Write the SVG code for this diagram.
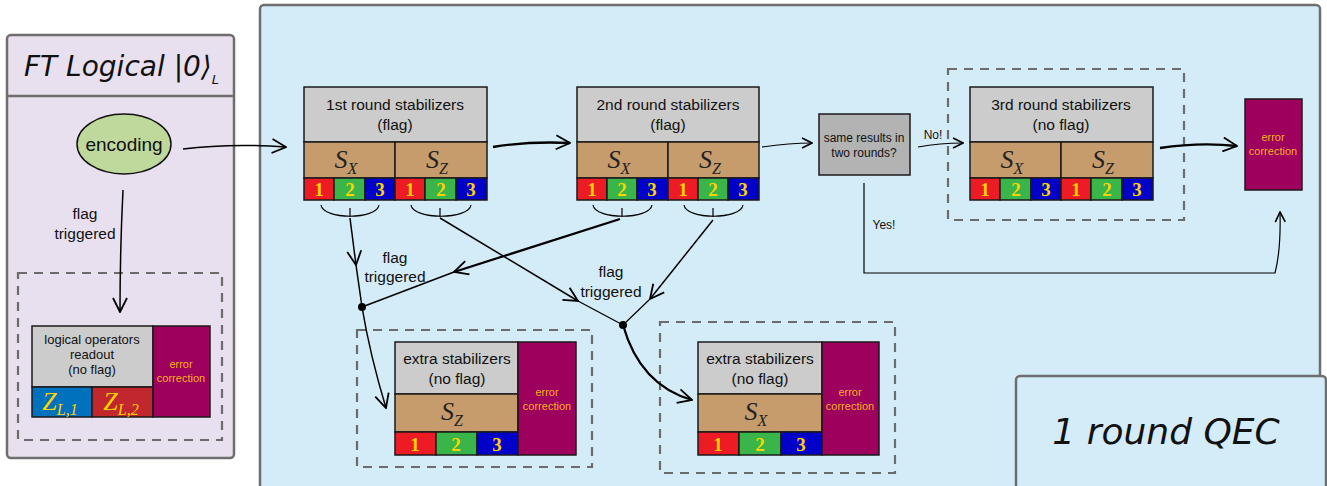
<svg xmlns="http://www.w3.org/2000/svg" width="1327" height="486" viewBox="0 0 1327 486">
  <defs>
    <marker id="open" viewBox="0 0 12 12" refX="11" refY="6" markerWidth="12" markerHeight="12" markerUnits="userSpaceOnUse" orient="auto">
      <path d="M1,1 L11,6 L1,11" fill="none" stroke="#000" stroke-width="1.6"/>
    </marker>
    <marker id="openBig" viewBox="0 0 16 16" refX="15" refY="8" markerWidth="16" markerHeight="16" markerUnits="userSpaceOnUse" orient="auto">
      <path d="M1,1 L15,8 L1,15" fill="none" stroke="#000" stroke-width="1.8"/>
    </marker>
    <style>
      .panel { stroke: #6e6e6e; stroke-width: 2.5; }
      .dash { fill: none; stroke: #6b6b6b; stroke-width: 2.2; stroke-dasharray: 9 7; }
      .cell { stroke: #1a1a1a; stroke-width: 1.5; }
      .gray { fill: #cccccc; }
      .brown { fill: #c69c6d; }
      .r { fill: #ed1c24; }
      .g { fill: #39b54a; }
      .b { fill: #0000c8; }
      .ec { fill: #9e005d; }
      .lbl { font-family: "Liberation Sans", Arial, sans-serif; font-size: 15.5px; fill: #111; text-anchor: middle; }
      .sm { font-size: 13px; }
      .xs { font-size: 12px; }
      .big { font-size: 19px; }
      .ecl { font-family: "Liberation Sans", Arial, sans-serif; font-size: 11px; fill: #f7b21e; text-anchor: middle; }
      .num { font-family: "Liberation Serif", "Times New Roman", serif; font-weight: bold; font-size: 19px; fill: #ffd400; text-anchor: middle; }
      .op { font-family: "Liberation Serif", "Times New Roman", serif; font-style: italic; font-size: 26px; fill: #222; text-anchor: middle; }
      .zl { fill: #ffd400; }
      .sub { font-size: 16px; }
      .hand { font-family: "DejaVu Sans", sans-serif; fill: #111; font-style: italic; }
      .line { fill: none; stroke: #000; stroke-width: 1.5; }
      .thin { stroke-width: 1.2; }
      .thick { fill: none; stroke: #000; stroke-width: 2.3; }
      .brace { fill: none; stroke: #000; stroke-width: 1.2; }
    </style>
  </defs>

  <rect width="1327" height="486" fill="#ffffff"/>

  <!-- left panel: fault-tolerant logical zero -->
  <g id="ft-panel">
    <rect x="7" y="35" width="227" height="423" rx="4" fill="#e8e0ee" class="panel"/>
    <line x1="7" y1="96" x2="234" y2="96" stroke="#6e6e6e" stroke-width="2.5"/>
    <text x="24" y="76" class="hand" style="font-size:28px">FT Logical |0⟩<tspan style="font-size:13px" dy="8">L</tspan></text>
  </g>

  <!-- main QEC panel -->
  <g id="qec-panel">
    <rect x="260" y="5" width="1060" height="490" rx="4" fill="#d4ecf8" class="panel"/>
  </g>

  <g id="qec-label">
    <rect x="1016" y="376" width="310" height="120" rx="4" fill="#d4ecf8" class="panel"/>
    <text x="1166" y="444" class="hand" style="font-size:36px" text-anchor="middle">1 round QEC</text>
  </g>

  <!-- encoding -->
  <g id="encoding">
    <ellipse cx="124" cy="144" rx="47" ry="30" fill="#bfd89b" stroke="#111" stroke-width="1.5"/>
    <text x="124" y="151" class="lbl big">encoding</text>
  </g>

  <!-- logical readout -->
  <g id="logical-readout">
    <rect x="18" y="273" width="204" height="167" class="dash"/>
    <rect x="32" y="326" width="121" height="61" class="cell gray"/>
    <text x="92" y="344" class="lbl sm">logical operators</text>
    <text x="92" y="359" class="lbl sm">readout</text>
    <text x="92" y="374" class="lbl sm">(no flag)</text>
    <rect x="32" y="387" width="60" height="30" class="cell" fill="#0071bc"/>
    <rect x="92" y="387" width="61" height="30" class="cell" fill="#c1272d"/>
    <text x="60" y="410" class="op zl">Z<tspan class="sub" dy="5">L,1</tspan></text>
    <text x="121" y="410" class="op zl">Z<tspan class="sub" dy="5">L,2</tspan></text>
    <rect x="153" y="326" width="57" height="91" class="cell ec"/>
    <text x="181" y="368" class="ecl">error</text>
    <text x="181" y="382" class="ecl">correction</text>
  </g>

  <!-- 1st round -->
  <g id="round1">
    <rect x="304" y="87" width="183" height="55" class="cell gray"/>
    <text x="395" y="110" class="lbl">1st round stabilizers</text>
    <text x="395" y="130" class="lbl">(flag)</text>
    <rect x="304" y="142" width="91" height="36" class="cell brown"/>
    <rect x="395" y="142" width="92" height="36" class="cell brown"/>
    <text x="346" y="168" class="op">S<tspan class="sub" dy="6">X</tspan></text>
    <text x="437" y="168" class="op">S<tspan class="sub" dy="6">Z</tspan></text>
    <rect x="304" y="178" width="30" height="22" class="cell r"/>
    <rect x="334" y="178" width="31" height="22" class="cell g"/>
    <rect x="365" y="178" width="30" height="22" class="cell b"/>
    <rect x="395" y="178" width="30" height="22" class="cell r"/>
    <rect x="425" y="178" width="31" height="22" class="cell g"/>
    <rect x="456" y="178" width="31" height="22" class="cell b"/>
    <text x="319" y="196" class="num">1</text>
    <text x="350" y="196" class="num">2</text>
    <text x="380" y="196" class="num">3</text>
    <text x="410" y="196" class="num">1</text>
    <text x="441" y="196" class="num">2</text>
    <text x="471" y="196" class="num">3</text>
  </g>

  <!-- 2nd round -->
  <g id="round2">
    <rect x="577" y="87" width="182" height="55" class="cell gray"/>
    <text x="668" y="110" class="lbl">2nd round stabilizers</text>
    <text x="668" y="130" class="lbl">(flag)</text>
    <rect x="577" y="142" width="91" height="36" class="cell brown"/>
    <rect x="668" y="142" width="91" height="36" class="cell brown"/>
    <text x="619" y="168" class="op">S<tspan class="sub" dy="6">X</tspan></text>
    <text x="710" y="168" class="op">S<tspan class="sub" dy="6">Z</tspan></text>
    <rect x="577" y="178" width="30" height="22" class="cell r"/>
    <rect x="607" y="178" width="30" height="22" class="cell g"/>
    <rect x="637" y="178" width="31" height="22" class="cell b"/>
    <rect x="668" y="178" width="30" height="22" class="cell r"/>
    <rect x="698" y="178" width="30" height="22" class="cell g"/>
    <rect x="728" y="178" width="31" height="22" class="cell b"/>
    <text x="592" y="196" class="num">1</text>
    <text x="622" y="196" class="num">2</text>
    <text x="652" y="196" class="num">3</text>
    <text x="683" y="196" class="num">1</text>
    <text x="713" y="196" class="num">2</text>
    <text x="743" y="196" class="num">3</text>
  </g>

  <!-- decision -->
  <g id="decision">
    <rect x="819" y="114" width="91" height="61" fill="#b3b3b3" stroke="#1a1a1a" stroke-width="1.5"/>
    <text x="864" y="142" class="lbl xs">same results in</text>
    <text x="864" y="157" class="lbl xs">two rounds?</text>
  </g>

  <!-- 3rd round -->
  <g id="round3">
    <rect x="948" y="69" width="236" height="151" class="dash"/>
    <rect x="970" y="87" width="183" height="55" class="cell gray"/>
    <text x="1061" y="110" class="lbl">3rd round stabilizers</text>
    <text x="1061" y="130" class="lbl">(no flag)</text>
    <rect x="970" y="142" width="91" height="36" class="cell brown"/>
    <rect x="1061" y="142" width="92" height="36" class="cell brown"/>
    <text x="1012" y="168" class="op">S<tspan class="sub" dy="6">X</tspan></text>
    <text x="1103" y="168" class="op">S<tspan class="sub" dy="6">Z</tspan></text>
    <rect x="970" y="178" width="30" height="22" class="cell r"/>
    <rect x="1000" y="178" width="31" height="22" class="cell g"/>
    <rect x="1031" y="178" width="30" height="22" class="cell b"/>
    <rect x="1061" y="178" width="30" height="22" class="cell r"/>
    <rect x="1091" y="178" width="31" height="22" class="cell g"/>
    <rect x="1122" y="178" width="31" height="22" class="cell b"/>
    <text x="985" y="196" class="num">1</text>
    <text x="1016" y="196" class="num">2</text>
    <text x="1046" y="196" class="num">3</text>
    <text x="1076" y="196" class="num">1</text>
    <text x="1107" y="196" class="num">2</text>
    <text x="1137" y="196" class="num">3</text>
  </g>

  <!-- final error correction -->
  <g id="error-correction">
    <rect x="1245" y="99" width="57" height="91" class="cell ec"/>
    <text x="1273" y="141" class="ecl">error</text>
    <text x="1273" y="155" class="ecl">correction</text>
  </g>

  <!-- extra Z stabilizers -->
  <g id="extra-z">
    <rect x="357" y="330" width="235" height="137" class="dash"/>
    <rect x="395" y="342" width="123" height="52" class="cell gray"/>
    <text x="457" y="364" class="lbl">extra stabilizers</text>
    <text x="457" y="384" class="lbl">(no flag)</text>
    <rect x="395" y="394" width="123" height="38" class="cell brown"/>
    <text x="452" y="420" class="op">S<tspan class="sub" dy="6">Z</tspan></text>
    <rect x="395" y="432" width="41" height="23" class="cell r"/>
    <rect x="436" y="432" width="41" height="23" class="cell g"/>
    <rect x="477" y="432" width="41" height="23" class="cell b"/>
    <text x="415" y="451" class="num">1</text>
    <text x="456" y="451" class="num">2</text>
    <text x="497" y="451" class="num">3</text>
    <rect x="518" y="342" width="58" height="113" class="cell ec"/>
    <text x="547" y="396" class="ecl">error</text>
    <text x="547" y="410" class="ecl">correction</text>
  </g>

  <!-- extra X stabilizers -->
  <g id="extra-x">
    <rect x="660" y="322" width="235" height="151" class="dash"/>
    <rect x="698" y="342" width="124" height="52" class="cell gray"/>
    <text x="760" y="364" class="lbl">extra stabilizers</text>
    <text x="760" y="384" class="lbl">(no flag)</text>
    <rect x="698" y="394" width="124" height="38" class="cell brown"/>
    <text x="756" y="420" class="op">S<tspan class="sub" dy="6">X</tspan></text>
    <rect x="698" y="432" width="41" height="23" class="cell r"/>
    <rect x="739" y="432" width="42" height="23" class="cell g"/>
    <rect x="781" y="432" width="41" height="23" class="cell b"/>
    <text x="718" y="451" class="num">1</text>
    <text x="760" y="451" class="num">2</text>
    <text x="801" y="451" class="num">3</text>
    <rect x="822" y="342" width="57" height="113" class="cell ec"/>
    <text x="850" y="396" class="ecl">error</text>
    <text x="850" y="410" class="ecl">correction</text>
  </g>

  <!-- connectors -->
  <g id="connectors">
    <!-- flag braces under the syndrome qubits -->
    <path class="brace" d="M321,205 C323,220 377,220 379,205 M350,208 V217"/>
    <path class="brace" d="M411,205 C413,220 469,220 471,205 M440,208 V217"/>
    <path class="brace" d="M593,205 C595,220 650,220 652,205 M622,208 V217"/>
    <path class="brace" d="M684,205 C686,220 741,220 743,205 M713,208 V217"/>

    <!-- main flow -->
    <path class="line" d="M183,149 Q230,143 286,147" marker-end="url(#openBig)"/>
    <path class="thick" d="M493,147 Q530,141 570,143" marker-end="url(#openBig)"/>
    <path class="line thin" d="M762,147 Q790,143 812,143" marker-end="url(#open)"/>
    <path class="line thin" d="M918,147 Q940,143 963,143" marker-end="url(#open)"/>
    <path class="thick" d="M1160,148 Q1200,142 1237,146" marker-end="url(#openBig)"/>
    <text x="933" y="139" class="lbl xs">No!</text>

    <!-- yes branch -->
    <path class="line thin" d="M864,183 V273 H1275 Q1281,250 1280,212" marker-end="url(#open)"/>
    <text x="884" y="229" class="lbl xs">Yes!</text>

    <!-- left flag branch -->
    <path class="line" d="M123,190 Q120,250 120,312" marker-end="url(#openBig)"/>
    <text x="85" y="219" class="lbl">flag</text>
    <text x="85" y="239" class="lbl">triggered</text>

    <!-- flags into the extra Z stabilizers -->
    <path class="line" d="M350,218 L356,265" marker-end="url(#openBig)"/>
    <path class="line" d="M356,265 L362,307 Q370,355 386,408" marker-end="url(#openBig)"/>
    <path class="thick" d="M620,219 L454,272" marker-end="url(#openBig)"/>
    <path class="line" stroke-width="1.3" d="M454,272 L362,307"/>
    <circle cx="362" cy="307" r="4"/>
    <text x="395" y="263" class="lbl">flag</text>
    <text x="395" y="282" class="lbl">triggered</text>

    <!-- flags into the extra X stabilizers -->
    <path class="line" d="M440,218 L578,301" marker-end="url(#openBig)"/>
    <path class="line thin" d="M578,301 L623,325"/>
    <path class="line" d="M713,220 L650,299" marker-end="url(#openBig)"/>
    <path class="line thin" d="M650,299 L623,325"/>
    <path class="thick" d="M623,325 Q640,385 692,400" marker-end="url(#openBig)"/>
    <circle cx="623" cy="325" r="4"/>
    <text x="611" y="277" class="lbl">flag</text>
    <text x="611" y="297" class="lbl">triggered</text>
  </g>
</svg>
